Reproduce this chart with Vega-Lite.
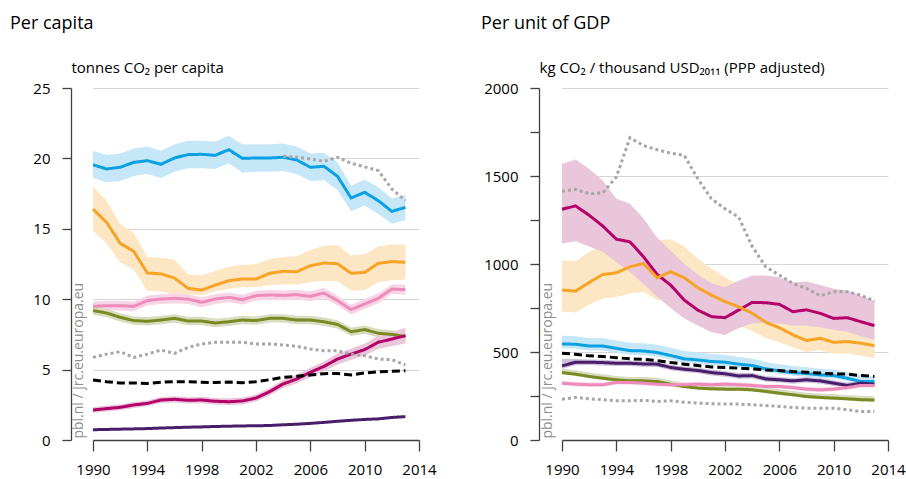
{
  "$schema": "https://vega.github.io/schema/vega-lite/v6.json",
  "background": "white",
  "padding": {"left": 10, "top": 15, "right": 5, "bottom": 0},
  "config": {
    "font": "Open Sans",
    "view": {"stroke": null},
    "title": {"fontSize": 18, "fontWeight": "normal", "color": "#000", "anchor": "start", "frame": "group", "font": "Open Sans"}
  },
  "resolve": {"scale": {"x": "independent", "y": "independent", "stroke": "independent", "strokeDash": "independent"}},
  "spacing": 44,
  "datasets": {
    "pc": [
      {"s":"USA","year":1990,"v":19.55,"lo":18.6,"hi":20.55},{"s":"USA","year":1991,"v":19.25,"lo":18.3,"hi":20.25},{"s":"USA","year":1992,"v":19.37,"lo":18.4,"hi":20.35},{"s":"USA","year":1993,"v":19.72,"lo":18.75,"hi":20.7},{"s":"USA","year":1994,"v":19.84,"lo":18.9,"hi":20.85},{"s":"USA","year":1995,"v":19.58,"lo":18.6,"hi":20.55},{"s":"USA","year":1996,"v":20.03,"lo":19.05,"hi":21.0},{"s":"USA","year":1997,"v":20.27,"lo":19.3,"hi":21.25},{"s":"USA","year":1998,"v":20.29,"lo":19.3,"hi":21.25},{"s":"USA","year":1999,"v":20.22,"lo":19.25,"hi":21.2},{"s":"USA","year":2000,"v":20.62,"lo":19.65,"hi":21.6},{"s":"USA","year":2001,"v":20.0,"lo":19.0,"hi":21.0},{"s":"USA","year":2002,"v":20.03,"lo":19.05,"hi":21.0},{"s":"USA","year":2003,"v":20.03,"lo":19.05,"hi":21.0},{"s":"USA","year":2004,"v":20.08,"lo":19.1,"hi":21.05},{"s":"USA","year":2005,"v":19.89,"lo":18.9,"hi":20.85},{"s":"USA","year":2006,"v":19.37,"lo":18.4,"hi":20.35},{"s":"USA","year":2007,"v":19.44,"lo":18.45,"hi":20.4},{"s":"USA","year":2008,"v":18.73,"lo":17.75,"hi":19.7},{"s":"USA","year":2009,"v":17.19,"lo":16.25,"hi":18.05},{"s":"USA","year":2010,"v":17.59,"lo":16.65,"hi":18.5},{"s":"USA","year":2011,"v":17.0,"lo":16.05,"hi":17.95},{"s":"USA","year":2012,"v":16.24,"lo":15.35,"hi":17.15},{"s":"USA","year":2013,"v":16.52,"lo":15.6,"hi":17.4},
      {"s":"Russia","year":1990,"v":16.4,"lo":14.87,"hi":18.0},{"s":"Russia","year":1991,"v":15.46,"lo":13.97,"hi":17.0},{"s":"Russia","year":1992,"v":13.97,"lo":12.6,"hi":15.34},{"s":"Russia","year":1993,"v":13.4,"lo":12.1,"hi":14.7},{"s":"Russia","year":1994,"v":11.86,"lo":10.6,"hi":13.0},{"s":"Russia","year":1995,"v":11.8,"lo":10.55,"hi":12.95},{"s":"Russia","year":1996,"v":11.5,"lo":10.3,"hi":12.8},{"s":"Russia","year":1997,"v":10.77,"lo":10.35,"hi":11.75},{"s":"Russia","year":1998,"v":10.65,"lo":10.3,"hi":11.7},{"s":"Russia","year":1999,"v":11.0,"lo":10.55,"hi":12.0},{"s":"Russia","year":2000,"v":11.32,"lo":10.75,"hi":12.3},{"s":"Russia","year":2001,"v":11.43,"lo":10.85,"hi":12.45},{"s":"Russia","year":2002,"v":11.43,"lo":10.85,"hi":12.5},{"s":"Russia","year":2003,"v":11.84,"lo":11.0,"hi":12.85},{"s":"Russia","year":2004,"v":11.98,"lo":11.05,"hi":13.0},{"s":"Russia","year":2005,"v":11.95,"lo":11.05,"hi":13.05},{"s":"Russia","year":2006,"v":12.38,"lo":11.2,"hi":13.5},{"s":"Russia","year":2007,"v":12.57,"lo":11.3,"hi":13.8},{"s":"Russia","year":2008,"v":12.52,"lo":11.3,"hi":13.85},{"s":"Russia","year":2009,"v":11.84,"lo":10.6,"hi":13.1},{"s":"Russia","year":2010,"v":11.9,"lo":10.65,"hi":13.2},{"s":"Russia","year":2011,"v":12.55,"lo":11.2,"hi":13.75},{"s":"Russia","year":2012,"v":12.67,"lo":11.35,"hi":13.9},{"s":"Russia","year":2013,"v":12.62,"lo":11.4,"hi":13.87},
      {"s":"Japan","year":1990,"v":9.49,"lo":9.14,"hi":9.84},{"s":"Japan","year":1991,"v":9.54,"lo":9.19,"hi":9.89},{"s":"Japan","year":1992,"v":9.54,"lo":9.19,"hi":9.89},{"s":"Japan","year":1993,"v":9.49,"lo":9.14,"hi":9.84},{"s":"Japan","year":1994,"v":9.9,"lo":9.55,"hi":10.25},{"s":"Japan","year":1995,"v":10.01,"lo":9.66,"hi":10.36},{"s":"Japan","year":1996,"v":10.06,"lo":9.71,"hi":10.41},{"s":"Japan","year":1997,"v":10.01,"lo":9.66,"hi":10.36},{"s":"Japan","year":1998,"v":9.78,"lo":9.43,"hi":10.13},{"s":"Japan","year":1999,"v":10.01,"lo":9.66,"hi":10.36},{"s":"Japan","year":2000,"v":10.13,"lo":9.78,"hi":10.48},{"s":"Japan","year":2001,"v":9.97,"lo":9.62,"hi":10.32},{"s":"Japan","year":2002,"v":10.25,"lo":9.9,"hi":10.6},{"s":"Japan","year":2003,"v":10.3,"lo":9.95,"hi":10.65},{"s":"Japan","year":2004,"v":10.27,"lo":9.92,"hi":10.62},{"s":"Japan","year":2005,"v":10.32,"lo":9.97,"hi":10.67},{"s":"Japan","year":2006,"v":10.2,"lo":9.85,"hi":10.55},{"s":"Japan","year":2007,"v":10.44,"lo":10.09,"hi":10.79},{"s":"Japan","year":2008,"v":9.9,"lo":9.55,"hi":10.25},{"s":"Japan","year":2009,"v":9.26,"lo":8.91,"hi":9.61},{"s":"Japan","year":2010,"v":9.66,"lo":9.31,"hi":10.01},{"s":"Japan","year":2011,"v":10.06,"lo":9.71,"hi":10.41},{"s":"Japan","year":2012,"v":10.72,"lo":10.37,"hi":11.07},{"s":"Japan","year":2013,"v":10.68,"lo":10.33,"hi":11.03},
      {"s":"EU28","year":1990,"v":9.19,"lo":8.89,"hi":9.49},{"s":"EU28","year":1991,"v":9.02,"lo":8.72,"hi":9.32},{"s":"EU28","year":1992,"v":8.71,"lo":8.41,"hi":9.01},{"s":"EU28","year":1993,"v":8.48,"lo":8.18,"hi":8.78},{"s":"EU28","year":1994,"v":8.43,"lo":8.13,"hi":8.73},{"s":"EU28","year":1995,"v":8.52,"lo":8.22,"hi":8.82},{"s":"EU28","year":1996,"v":8.64,"lo":8.34,"hi":8.94},{"s":"EU28","year":1997,"v":8.45,"lo":8.15,"hi":8.75},{"s":"EU28","year":1998,"v":8.45,"lo":8.15,"hi":8.75},{"s":"EU28","year":1999,"v":8.31,"lo":8.01,"hi":8.61},{"s":"EU28","year":2000,"v":8.4,"lo":8.1,"hi":8.7},{"s":"EU28","year":2001,"v":8.52,"lo":8.22,"hi":8.82},{"s":"EU28","year":2002,"v":8.48,"lo":8.18,"hi":8.78},{"s":"EU28","year":2003,"v":8.64,"lo":8.34,"hi":8.94},{"s":"EU28","year":2004,"v":8.64,"lo":8.34,"hi":8.94},{"s":"EU28","year":2005,"v":8.52,"lo":8.22,"hi":8.82},{"s":"EU28","year":2006,"v":8.52,"lo":8.22,"hi":8.82},{"s":"EU28","year":2007,"v":8.4,"lo":8.1,"hi":8.7},{"s":"EU28","year":2008,"v":8.21,"lo":7.91,"hi":8.51},{"s":"EU28","year":2009,"v":7.69,"lo":7.39,"hi":7.99},{"s":"EU28","year":2010,"v":7.84,"lo":7.54,"hi":8.14},{"s":"EU28","year":2011,"v":7.58,"lo":7.28,"hi":7.88},{"s":"EU28","year":2012,"v":7.5,"lo":7.2,"hi":7.8},{"s":"EU28","year":2013,"v":7.36,"lo":7.06,"hi":7.66},
      {"s":"China","year":1990,"v":2.13,"lo":1.93,"hi":2.33},{"s":"China","year":1991,"v":2.23,"lo":2.03,"hi":2.43},{"s":"China","year":1992,"v":2.32,"lo":2.12,"hi":2.52},{"s":"China","year":1993,"v":2.49,"lo":2.28,"hi":2.7},{"s":"China","year":1994,"v":2.6,"lo":2.39,"hi":2.81},{"s":"China","year":1995,"v":2.84,"lo":2.62,"hi":3.06},{"s":"China","year":1996,"v":2.89,"lo":2.67,"hi":3.11},{"s":"China","year":1997,"v":2.82,"lo":2.6,"hi":3.04},{"s":"China","year":1998,"v":2.84,"lo":2.61,"hi":3.07},{"s":"China","year":1999,"v":2.75,"lo":2.52,"hi":2.98},{"s":"China","year":2000,"v":2.72,"lo":2.48,"hi":2.96},{"s":"China","year":2001,"v":2.77,"lo":2.53,"hi":3.01},{"s":"China","year":2002,"v":2.98,"lo":2.73,"hi":3.23},{"s":"China","year":2003,"v":3.43,"lo":3.16,"hi":3.7},{"s":"China","year":2004,"v":3.98,"lo":3.69,"hi":4.27},{"s":"China","year":2005,"v":4.33,"lo":4.02,"hi":4.64},{"s":"China","year":2006,"v":4.81,"lo":4.48,"hi":5.14},{"s":"China","year":2007,"v":5.23,"lo":4.88,"hi":5.58},{"s":"China","year":2008,"v":5.75,"lo":5.37,"hi":6.13},{"s":"China","year":2009,"v":6.1,"lo":5.7,"hi":6.5},{"s":"China","year":2010,"v":6.42,"lo":6.0,"hi":6.84},{"s":"China","year":2011,"v":6.94,"lo":6.48,"hi":7.4},{"s":"China","year":2012,"v":7.17,"lo":6.68,"hi":7.66},{"s":"China","year":2013,"v":7.41,"lo":6.85,"hi":7.97},
      {"s":"India","year":1990,"v":0.73},{"s":"India","year":1991,"v":0.75},{"s":"India","year":1992,"v":0.77},{"s":"India","year":1993,"v":0.79},{"s":"India","year":1994,"v":0.81},{"s":"India","year":1995,"v":0.85},{"s":"India","year":1996,"v":0.88},{"s":"India","year":1997,"v":0.91},{"s":"India","year":1998,"v":0.93},{"s":"India","year":1999,"v":0.96},{"s":"India","year":2000,"v":0.98},{"s":"India","year":2001,"v":1.0},{"s":"India","year":2002,"v":1.01},{"s":"India","year":2003,"v":1.03},{"s":"India","year":2004,"v":1.08},{"s":"India","year":2005,"v":1.12},{"s":"India","year":2006,"v":1.18},{"s":"India","year":2007,"v":1.25},{"s":"India","year":2008,"v":1.33},{"s":"India","year":2009,"v":1.4},{"s":"India","year":2010,"v":1.46},{"s":"India","year":2011,"v":1.5},{"s":"India","year":2012,"v":1.6},{"s":"India","year":2013,"v":1.66},
      {"s":"World","year":1990,"v":4.26},{"s":"World","year":1991,"v":4.14},{"s":"World","year":1992,"v":4.05},{"s":"World","year":1993,"v":4.05},{"s":"World","year":1994,"v":4.02},{"s":"World","year":1995,"v":4.1},{"s":"World","year":1996,"v":4.14},{"s":"World","year":1997,"v":4.14},{"s":"World","year":1998,"v":4.1},{"s":"World","year":1999,"v":4.08},{"s":"World","year":2000,"v":4.12},{"s":"World","year":2001,"v":4.07},{"s":"World","year":2002,"v":4.14},{"s":"World","year":2003,"v":4.28},{"s":"World","year":2004,"v":4.45},{"s":"World","year":2005,"v":4.52},{"s":"World","year":2006,"v":4.62},{"s":"World","year":2007,"v":4.71},{"s":"World","year":2008,"v":4.73},{"s":"World","year":2009,"v":4.62},{"s":"World","year":2010,"v":4.76},{"s":"World","year":2011,"v":4.85},{"s":"World","year":2012,"v":4.88},{"s":"World","year":2013,"v":4.92},
      {"s":"OtherHigh","year":2004,"v":20.15},{"s":"OtherHigh","year":2005,"v":20.08},{"s":"OtherHigh","year":2006,"v":19.96},{"s":"OtherHigh","year":2007,"v":19.8},{"s":"OtherHigh","year":2008,"v":20.08},{"s":"OtherHigh","year":2009,"v":19.65},{"s":"OtherHigh","year":2010,"v":19.4},{"s":"OtherHigh","year":2011,"v":19.13},{"s":"OtherHigh","year":2012,"v":17.83},{"s":"OtherHigh","year":2013,"v":17.0},
      {"s":"OtherLow","year":1990,"v":5.87},{"s":"OtherLow","year":1991,"v":6.1},{"s":"OtherLow","year":1992,"v":6.27},{"s":"OtherLow","year":1993,"v":5.87},{"s":"OtherLow","year":1994,"v":6.1},{"s":"OtherLow","year":1995,"v":6.39},{"s":"OtherLow","year":1996,"v":6.15},{"s":"OtherLow","year":1997,"v":6.58},{"s":"OtherLow","year":1998,"v":6.82},{"s":"OtherLow","year":1999,"v":6.94},{"s":"OtherLow","year":2000,"v":6.94},{"s":"OtherLow","year":2001,"v":6.94},{"s":"OtherLow","year":2002,"v":6.82},{"s":"OtherLow","year":2003,"v":6.82},{"s":"OtherLow","year":2004,"v":6.75},{"s":"OtherLow","year":2005,"v":6.65},{"s":"OtherLow","year":2006,"v":6.46},{"s":"OtherLow","year":2007,"v":6.34},{"s":"OtherLow","year":2008,"v":6.34},{"s":"OtherLow","year":2009,"v":6.1},{"s":"OtherLow","year":2010,"v":5.99},{"s":"OtherLow","year":2011,"v":5.75},{"s":"OtherLow","year":2012,"v":5.71},{"s":"OtherLow","year":2013,"v":5.33}
    ],
    "gdp": [
      {"s":"China","year":1990,"v":1311,"lo":1116,"hi":1569},{"s":"China","year":1991,"v":1330,"lo":1129,"hi":1594},{"s":"China","year":1992,"v":1277,"lo":1100,"hi":1541},{"s":"China","year":1993,"v":1216,"lo":1069,"hi":1475},{"s":"China","year":1994,"v":1141,"lo":1010,"hi":1371},{"s":"China","year":1995,"v":1126,"lo":956,"hi":1343},{"s":"China","year":1996,"v":1041,"lo":885,"hi":1258},{"s":"China","year":1997,"v":941,"lo":814,"hi":1150},{"s":"China","year":1998,"v":880,"lo":750,"hi":1075},{"s":"China","year":1999,"v":795,"lo":691,"hi":1000},{"s":"China","year":2000,"v":738,"lo":650,"hi":940},{"s":"China","year":2001,"v":701,"lo":612,"hi":890},{"s":"China","year":2002,"v":695,"lo":597,"hi":870},{"s":"China","year":2003,"v":738,"lo":635,"hi":905},{"s":"China","year":2004,"v":782,"lo":663,"hi":935},{"s":"China","year":2005,"v":780,"lo":665,"hi":935},{"s":"China","year":2006,"v":771,"lo":663,"hi":925},{"s":"China","year":2007,"v":729,"lo":650,"hi":895},{"s":"China","year":2008,"v":740,"lo":650,"hi":900},{"s":"China","year":2009,"v":720,"lo":640,"hi":880},{"s":"China","year":2010,"v":691,"lo":625,"hi":860},{"s":"China","year":2011,"v":695,"lo":615,"hi":850},{"s":"China","year":2012,"v":672,"lo":590,"hi":820},{"s":"China","year":2013,"v":650,"lo":568,"hi":790},
      {"s":"Russia","year":1990,"v":852,"lo":730,"hi":1022},{"s":"Russia","year":1991,"v":846,"lo":725,"hi":1016},{"s":"Russia","year":1992,"v":895,"lo":770,"hi":1069},{"s":"Russia","year":1993,"v":940,"lo":804,"hi":1107},{"s":"Russia","year":1994,"v":950,"lo":812,"hi":1135},{"s":"Russia","year":1995,"v":984,"lo":833,"hi":1140},{"s":"Russia","year":1996,"v":1003,"lo":842,"hi":1150},{"s":"Russia","year":1997,"v":922,"lo":795,"hi":1135},{"s":"Russia","year":1998,"v":956,"lo":800,"hi":1141},{"s":"Russia","year":1999,"v":922,"lo":780,"hi":1100},{"s":"Russia","year":2000,"v":865,"lo":740,"hi":1030},{"s":"Russia","year":2001,"v":823,"lo":705,"hi":975},{"s":"Russia","year":2002,"v":786,"lo":675,"hi":925},{"s":"Russia","year":2003,"v":757,"lo":650,"hi":885},{"s":"Russia","year":2004,"v":720,"lo":620,"hi":840},{"s":"Russia","year":2005,"v":669,"lo":580,"hi":790},{"s":"Russia","year":2006,"v":638,"lo":555,"hi":750},{"s":"Russia","year":2007,"v":597,"lo":525,"hi":705},{"s":"Russia","year":2008,"v":565,"lo":500,"hi":670},{"s":"Russia","year":2009,"v":578,"lo":510,"hi":680},{"s":"Russia","year":2010,"v":555,"lo":490,"hi":655},{"s":"Russia","year":2011,"v":559,"lo":490,"hi":660},{"s":"Russia","year":2012,"v":550,"lo":480,"hi":650},{"s":"Russia","year":2013,"v":536,"lo":465,"hi":635},
      {"s":"USA","year":1990,"v":546,"lo":521,"hi":592},{"s":"USA","year":1991,"v":544,"lo":518,"hi":590},{"s":"USA","year":1992,"v":534,"lo":508,"hi":580},{"s":"USA","year":1993,"v":534,"lo":508,"hi":580},{"s":"USA","year":1994,"v":521,"lo":496,"hi":566},{"s":"USA","year":1995,"v":508,"lo":484,"hi":553},{"s":"USA","year":1996,"v":506,"lo":482,"hi":550},{"s":"USA","year":1997,"v":497,"lo":473,"hi":541},{"s":"USA","year":1998,"v":480,"lo":457,"hi":524},{"s":"USA","year":1999,"v":461,"lo":439,"hi":505},{"s":"USA","year":2000,"v":455,"lo":433,"hi":498},{"s":"USA","year":2001,"v":446,"lo":425,"hi":488},{"s":"USA","year":2002,"v":442,"lo":421,"hi":484},{"s":"USA","year":2003,"v":431,"lo":411,"hi":472},{"s":"USA","year":2004,"v":423,"lo":403,"hi":463},{"s":"USA","year":2005,"v":404,"lo":385,"hi":443},{"s":"USA","year":2006,"v":393,"lo":375,"hi":431},{"s":"USA","year":2007,"v":383,"lo":365,"hi":420},{"s":"USA","year":2008,"v":378,"lo":360,"hi":414},{"s":"USA","year":2009,"v":370,"lo":353,"hi":405},{"s":"USA","year":2010,"v":366,"lo":349,"hi":400},{"s":"USA","year":2011,"v":351,"lo":335,"hi":384},{"s":"USA","year":2012,"v":332,"lo":320,"hi":370},{"s":"USA","year":2013,"v":332,"lo":322,"hi":362},
      {"s":"India","year":1990,"v":421,"lo":405,"hi":462},{"s":"India","year":1991,"v":442,"lo":425,"hi":460},{"s":"India","year":1992,"v":442,"lo":426,"hi":458},{"s":"India","year":1993,"v":440,"lo":424,"hi":456},{"s":"India","year":1994,"v":436,"lo":420,"hi":452},{"s":"India","year":1995,"v":436,"lo":420,"hi":452},{"s":"India","year":1996,"v":432,"lo":416,"hi":448},{"s":"India","year":1997,"v":431,"lo":415,"hi":447},{"s":"India","year":1998,"v":412,"lo":396,"hi":428},{"s":"India","year":1999,"v":402,"lo":386,"hi":418},{"s":"India","year":2000,"v":395,"lo":379,"hi":411},{"s":"India","year":2001,"v":383,"lo":367,"hi":399},{"s":"India","year":2002,"v":376,"lo":360,"hi":392},{"s":"India","year":2003,"v":364,"lo":348,"hi":380},{"s":"India","year":2004,"v":366,"lo":350,"hi":382},{"s":"India","year":2005,"v":347,"lo":331,"hi":363},{"s":"India","year":2006,"v":342,"lo":326,"hi":358},{"s":"India","year":2007,"v":336,"lo":320,"hi":352},{"s":"India","year":2008,"v":342,"lo":326,"hi":358},{"s":"India","year":2009,"v":336,"lo":320,"hi":352},{"s":"India","year":2010,"v":323,"lo":307,"hi":339},{"s":"India","year":2011,"v":310,"lo":294,"hi":326},{"s":"India","year":2012,"v":323,"lo":307,"hi":339},{"s":"India","year":2013,"v":317,"lo":301,"hi":333},
      {"s":"EU28","year":1990,"v":383,"lo":373,"hi":405},{"s":"EU28","year":1991,"v":374,"lo":364,"hi":396},{"s":"EU28","year":1992,"v":361,"lo":351,"hi":383},{"s":"EU28","year":1993,"v":351,"lo":341,"hi":373},{"s":"EU28","year":1994,"v":342,"lo":332,"hi":364},{"s":"EU28","year":1995,"v":336,"lo":326,"hi":358},{"s":"EU28","year":1996,"v":336,"lo":326,"hi":358},{"s":"EU28","year":1997,"v":332,"lo":322,"hi":354},{"s":"EU28","year":1998,"v":317,"lo":307,"hi":339},{"s":"EU28","year":1999,"v":304,"lo":294,"hi":326},{"s":"EU28","year":2000,"v":295,"lo":285,"hi":317},{"s":"EU28","year":2001,"v":291,"lo":281,"hi":313},{"s":"EU28","year":2002,"v":289,"lo":279,"hi":311},{"s":"EU28","year":2003,"v":289,"lo":279,"hi":311},{"s":"EU28","year":2004,"v":285,"lo":275,"hi":307},{"s":"EU28","year":2005,"v":276,"lo":266,"hi":298},{"s":"EU28","year":2006,"v":266,"lo":256,"hi":288},{"s":"EU28","year":2007,"v":257,"lo":247,"hi":279},{"s":"EU28","year":2008,"v":247,"lo":237,"hi":269},{"s":"EU28","year":2009,"v":242,"lo":232,"hi":264},{"s":"EU28","year":2010,"v":238,"lo":228,"hi":260},{"s":"EU28","year":2011,"v":234,"lo":224,"hi":256},{"s":"EU28","year":2012,"v":229,"lo":219,"hi":251},{"s":"EU28","year":2013,"v":227,"lo":217,"hi":249},
      {"s":"Japan","year":1990,"v":323,"lo":311,"hi":335},{"s":"Japan","year":1991,"v":317,"lo":305,"hi":329},{"s":"Japan","year":1992,"v":314,"lo":302,"hi":326},{"s":"Japan","year":1993,"v":314,"lo":302,"hi":326},{"s":"Japan","year":1994,"v":327,"lo":315,"hi":339},{"s":"Japan","year":1995,"v":327,"lo":315,"hi":339},{"s":"Japan","year":1996,"v":323,"lo":311,"hi":335},{"s":"Japan","year":1997,"v":317,"lo":305,"hi":329},{"s":"Japan","year":1998,"v":314,"lo":302,"hi":326},{"s":"Japan","year":1999,"v":314,"lo":302,"hi":326},{"s":"Japan","year":2000,"v":317,"lo":305,"hi":329},{"s":"Japan","year":2001,"v":314,"lo":302,"hi":326},{"s":"Japan","year":2002,"v":317,"lo":305,"hi":329},{"s":"Japan","year":2003,"v":314,"lo":302,"hi":326},{"s":"Japan","year":2004,"v":310,"lo":298,"hi":322},{"s":"Japan","year":2005,"v":304,"lo":292,"hi":316},{"s":"Japan","year":2006,"v":304,"lo":292,"hi":316},{"s":"Japan","year":2007,"v":298,"lo":286,"hi":310},{"s":"Japan","year":2008,"v":289,"lo":277,"hi":301},{"s":"Japan","year":2009,"v":285,"lo":273,"hi":297},{"s":"Japan","year":2010,"v":289,"lo":277,"hi":301},{"s":"Japan","year":2011,"v":298,"lo":286,"hi":310},{"s":"Japan","year":2012,"v":310,"lo":298,"hi":322},{"s":"Japan","year":2013,"v":310,"lo":298,"hi":322},
      {"s":"World","year":1990,"v":493},{"s":"World","year":1991,"v":487},{"s":"World","year":1992,"v":478},{"s":"World","year":1993,"v":474},{"s":"World","year":1994,"v":468},{"s":"World","year":1995,"v":461},{"s":"World","year":1996,"v":459},{"s":"World","year":1997,"v":451},{"s":"World","year":1998,"v":440},{"s":"World","year":1999,"v":431},{"s":"World","year":2000,"v":423},{"s":"World","year":2001,"v":415},{"s":"World","year":2002,"v":412},{"s":"World","year":2003,"v":408},{"s":"World","year":2004,"v":404},{"s":"World","year":2005,"v":398},{"s":"World","year":2006,"v":395},{"s":"World","year":2007,"v":389},{"s":"World","year":2008,"v":385},{"s":"World","year":2009,"v":380},{"s":"World","year":2010,"v":376},{"s":"World","year":2011,"v":374},{"s":"World","year":2012,"v":366},{"s":"World","year":2013,"v":361},
      {"s":"OtherHigh","year":1990,"v":1413},{"s":"OtherHigh","year":1991,"v":1424},{"s":"OtherHigh","year":1992,"v":1399},{"s":"OtherHigh","year":1993,"v":1405},{"s":"OtherHigh","year":1994,"v":1494},{"s":"OtherHigh","year":1995,"v":1717},{"s":"OtherHigh","year":1996,"v":1673},{"s":"OtherHigh","year":1997,"v":1649},{"s":"OtherHigh","year":1998,"v":1630},{"s":"OtherHigh","year":1999,"v":1617},{"s":"OtherHigh","year":2000,"v":1484},{"s":"OtherHigh","year":2001,"v":1371},{"s":"OtherHigh","year":2002,"v":1314},{"s":"OtherHigh","year":2003,"v":1267},{"s":"OtherHigh","year":2004,"v":1100},{"s":"OtherHigh","year":2005,"v":984},{"s":"OtherHigh","year":2006,"v":937},{"s":"OtherHigh","year":2007,"v":890},{"s":"OtherHigh","year":2008,"v":861},{"s":"OtherHigh","year":2009,"v":820},{"s":"OtherHigh","year":2010,"v":842},{"s":"OtherHigh","year":2011,"v":842},{"s":"OtherHigh","year":2012,"v":823},{"s":"OtherHigh","year":2013,"v":789},
      {"s":"OtherLow","year":1990,"v":232},{"s":"OtherLow","year":1991,"v":242},{"s":"OtherLow","year":1992,"v":234},{"s":"OtherLow","year":1993,"v":229},{"s":"OtherLow","year":1994,"v":223},{"s":"OtherLow","year":1995,"v":223},{"s":"OtherLow","year":1996,"v":225},{"s":"OtherLow","year":1997,"v":219},{"s":"OtherLow","year":1998,"v":223},{"s":"OtherLow","year":1999,"v":215},{"s":"OtherLow","year":2000,"v":210},{"s":"OtherLow","year":2001,"v":206},{"s":"OtherLow","year":2002,"v":204},{"s":"OtherLow","year":2003,"v":204},{"s":"OtherLow","year":2004,"v":200},{"s":"OtherLow","year":2005,"v":196},{"s":"OtherLow","year":2006,"v":191},{"s":"OtherLow","year":2007,"v":185},{"s":"OtherLow","year":2008,"v":181},{"s":"OtherLow","year":2009,"v":181},{"s":"OtherLow","year":2010,"v":181},{"s":"OtherLow","year":2011,"v":172},{"s":"OtherLow","year":2012,"v":162},{"s":"OtherLow","year":2013,"v":162}
    ],
    "mark": [{"t": "pbl.nl / jrc.eu.europa.eu"}]
  },
  "hconcat": [
    {
      "width": 326,
      "height": 352,
      "title": {"text": "Per capita", "dx": -83, "offset": 27},
      "layer": [
        {"data": {"name": "pc"}, "transform": [{"filter": {"field": "s", "equal": "USA"}}], "mark": {"type": "area", "color": "#c6e7f8"},
          "encoding": {
            "x": {"field": "year", "type": "quantitative", "scale": {"domain": [1990, 2014], "nice": false, "zero": false},
              "axis": {"title": null, "values": [1990,1991,1992,1993,1994,1995,1996,1997,1998,1999,2000,2001,2002,2003,2004,2005,2006,2007,2008,2009,2010,2011,2012,2013,2014], "format": "d", "labelExpr": "datum.value % 4 === 2 ? datum.label : ''", "tickSize": {"condition": {"test": "datum.value % 4 === 2", "value": 11}, "value": 7}, "labelPadding": 11, "labelFontSize": 15, "labelColor": "#000", "domainColor": "#404040", "domainWidth": 1.3, "tickColor": "#404040", "tickWidth": 1.3, "grid": false, "labelFlush": false, "labelOverlap": false}},
            "y": {"field": "lo", "type": "quantitative", "scale": {"domain": [0, 25], "nice": false},
              "axis": {"title": "tonnes CO₂ per capita", "titleAngle": 0, "titleAlign": "left", "titleBaseline": "alphabetic", "titleX": 0, "titleY": -16, "titleFontSize": 15, "titleFontWeight": "normal", "titleColor": "#000", "values": [0,2.5,5,7.5,10,12.5,15,17.5,20,22.5,25], "labelExpr": "datum.value % 5 === 0 ? datum.label : ''", "offset": 22, "tickSize": 9, "labelPadding": 12, "labelFontSize": 15, "labelColor": "#000", "domainColor": "#404040", "domainWidth": 1.3, "tickColor": "#404040", "tickWidth": 1.3, "grid": true, "gridColor": "#d4d4d4", "gridWidth": 1.2, "gridOpacity": {"condition": {"test": "datum.value % 5 === 0 && datum.value > 0", "value": 1}, "value": 0}, "labelOverlap": false}},
            "y2": {"field": "hi"}}},
        {"data": {"name": "pc"}, "transform": [{"filter": {"field": "s", "equal": "Russia"}}], "mark": {"type": "area", "color": "#fde6c4"}, "encoding": {"x": {"field": "year", "type": "quantitative"}, "y": {"field": "lo", "type": "quantitative"}, "y2": {"field": "hi"}}},
        {"data": {"name": "pc"}, "transform": [{"filter": {"field": "s", "equal": "Japan"}}], "mark": {"type": "area", "color": "#f8d5e6"}, "encoding": {"x": {"field": "year", "type": "quantitative"}, "y": {"field": "lo", "type": "quantitative"}, "y2": {"field": "hi"}}},
        {"data": {"name": "pc"}, "transform": [{"filter": {"field": "s", "equal": "EU28"}}], "mark": {"type": "area", "color": "#d9dcc0"}, "encoding": {"x": {"field": "year", "type": "quantitative"}, "y": {"field": "lo", "type": "quantitative"}, "y2": {"field": "hi"}}},
        {"data": {"name": "pc"}, "transform": [{"filter": {"field": "s", "equal": "China"}}], "mark": {"type": "area", "color": "#e9c6d9"}, "encoding": {"x": {"field": "year", "type": "quantitative"}, "y": {"field": "lo", "type": "quantitative"}, "y2": {"field": "hi"}}},
        {"data": {"name": "mark"}, "mark": {"type": "text", "angle": 270, "align": "left", "baseline": "alphabetic", "fontSize": 14, "color": "#8f8f8f"},
          "encoding": {"x": {"datum": 1989.3}, "y": {"datum": 0.1}, "text": {"field": "t", "type": "nominal"}}},
        {"data": {"name": "pc"}, "mark": {"type": "line", "strokeWidth": 3, "strokeCap": "butt"},
          "encoding": {
            "x": {"field": "year", "type": "quantitative"},
            "y": {"field": "v", "type": "quantitative"},
            "stroke": {"field": "s", "type": "nominal", "legend": null, "scale": {"domain": ["OtherHigh","OtherLow","USA","Russia","Japan","EU28","China","India","World"], "range": ["#a6a6a6","#a6a6a6","#0aa0e1","#f7a325","#ee8bbb","#7a8a22","#b5006b","#4a1d6b","#000000"]}},
            "strokeDash": {"field": "s", "type": "nominal", "legend": null, "scale": {"domain": ["OtherHigh","OtherLow","USA","Russia","Japan","EU28","China","India","World"], "range": [[3,3],[3,3],[1,0],[1,0],[1,0],[1,0],[1,0],[1,0],[8,4]]}}
          }}
      ]
    },
    {
      "width": 326,
      "height": 352,
      "title": {"text": "Per unit of GDP", "dx": -81, "offset": 27},
      "layer": [
        {"data": {"name": "gdp"}, "transform": [{"filter": {"field": "s", "equal": "Russia"}}], "mark": {"type": "area", "color": "#fde6c4"},
          "encoding": {
            "x": {"field": "year", "type": "quantitative", "scale": {"domain": [1990, 2014], "nice": false, "zero": false},
              "axis": {"title": null, "values": [1990,1991,1992,1993,1994,1995,1996,1997,1998,1999,2000,2001,2002,2003,2004,2005,2006,2007,2008,2009,2010,2011,2012,2013,2014], "format": "d", "labelExpr": "datum.value % 4 === 2 ? datum.label : ''", "tickSize": {"condition": {"test": "datum.value % 4 === 2", "value": 11}, "value": 7}, "labelPadding": 11, "labelFontSize": 15, "labelColor": "#000", "domainColor": "#404040", "domainWidth": 1.3, "tickColor": "#404040", "tickWidth": 1.3, "grid": false, "labelFlush": false, "labelOverlap": false}},
            "y": {"field": "lo", "type": "quantitative", "scale": {"domain": [0, 2000], "nice": false},
              "axis": {"title": "kg CO₂ / thousand USD₂₀₁₁ (PPP adjusted)", "titleAngle": 0, "titleAlign": "left", "titleBaseline": "alphabetic", "titleX": 0, "titleY": -16, "titleFontSize": 15, "titleFontWeight": "normal", "titleColor": "#000", "values": [0,250,500,750,1000,1250,1500,1750,2000], "labelExpr": "datum.value % 500 === 0 ? datum.label : ''", "format": "d", "offset": 23, "tickSize": 9, "labelPadding": 12, "labelFontSize": 15, "labelColor": "#000", "domainColor": "#404040", "domainWidth": 1.3, "tickColor": "#404040", "tickWidth": 1.3, "grid": true, "gridColor": "#d4d4d4", "gridWidth": 1.2, "gridOpacity": {"condition": {"test": "datum.value % 500 === 0 && datum.value > 0", "value": 1}, "value": 0}, "labelOverlap": false}},
            "y2": {"field": "hi"}}},
        {"data": {"name": "gdp"}, "transform": [{"filter": {"field": "s", "equal": "China"}}], "mark": {"type": "area", "color": "#e9c6d9"}, "encoding": {"x": {"field": "year", "type": "quantitative"}, "y": {"field": "lo", "type": "quantitative"}, "y2": {"field": "hi"}}},
        {"data": {"name": "gdp"}, "transform": [{"filter": {"field": "s", "equal": "USA"}}], "mark": {"type": "area", "color": "#c6e7f8"}, "encoding": {"x": {"field": "year", "type": "quantitative"}, "y": {"field": "lo", "type": "quantitative"}, "y2": {"field": "hi"}}},
        {"data": {"name": "gdp"}, "transform": [{"filter": {"field": "s", "equal": "India"}}], "mark": {"type": "area", "color": "#cdc2da"}, "encoding": {"x": {"field": "year", "type": "quantitative"}, "y": {"field": "lo", "type": "quantitative"}, "y2": {"field": "hi"}}},
        {"data": {"name": "gdp"}, "transform": [{"filter": {"field": "s", "equal": "EU28"}}], "mark": {"type": "area", "color": "#d9dcc0"}, "encoding": {"x": {"field": "year", "type": "quantitative"}, "y": {"field": "lo", "type": "quantitative"}, "y2": {"field": "hi"}}},
        {"data": {"name": "gdp"}, "transform": [{"filter": {"field": "s", "equal": "Japan"}}], "mark": {"type": "area", "color": "#f8d5e6"}, "encoding": {"x": {"field": "year", "type": "quantitative"}, "y": {"field": "lo", "type": "quantitative"}, "y2": {"field": "hi"}}},
        {"data": {"name": "mark"}, "mark": {"type": "text", "angle": 270, "align": "left", "baseline": "alphabetic", "fontSize": 14, "color": "#8f8f8f"},
          "encoding": {"x": {"datum": 1989.3}, "y": {"datum": 8}, "text": {"field": "t", "type": "nominal"}}},
        {"data": {"name": "gdp"}, "mark": {"type": "line", "strokeWidth": 3, "strokeCap": "butt"},
          "encoding": {
            "x": {"field": "year", "type": "quantitative"},
            "y": {"field": "v", "type": "quantitative"},
            "stroke": {"field": "s", "type": "nominal", "legend": null, "scale": {"domain": ["OtherHigh","OtherLow","Japan","EU28","India","World","USA","Russia","China"], "range": ["#a6a6a6","#a6a6a6","#ee8bbb","#7a8a22","#4a1d6b","#000000","#0aa0e1","#f7a325","#b5006b"]}},
            "strokeDash": {"field": "s", "type": "nominal", "legend": null, "scale": {"domain": ["OtherHigh","OtherLow","Japan","EU28","India","World","USA","Russia","China"], "range": [[3,3],[3,3],[1,0],[1,0],[1,0],[8,4],[1,0],[1,0],[1,0]]}}
          }}
      ]
    }
  ]
}
